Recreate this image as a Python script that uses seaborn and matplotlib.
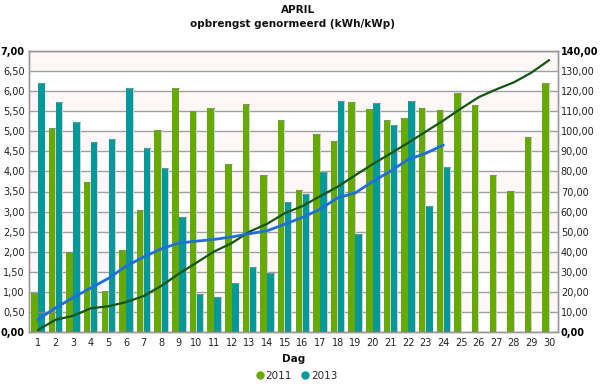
import matplotlib
matplotlib.use("Agg")
import matplotlib.pyplot as plt
import seaborn as sns
import numpy as np
import pandas as pd
from matplotlib.lines import Line2D
from matplotlib.ticker import FuncFormatter, MultipleLocator

days = list(range(1, 31))
y2011 = [0.98, 5.08, 2.00, 3.73, 1.03, 2.05, 3.05, 5.03, 6.08, 5.51,
         5.57, 4.18, 5.69, 3.90, 5.28, 3.53, 4.92, 4.76, 5.72, 5.55,
         5.28, 5.33, 5.58, 5.54, 5.96, 5.65, 3.90, 3.51, 4.87, 6.21]
y2013 = [6.20, 5.74, 5.23, 4.73, 4.80, 6.07, 4.58, 4.08, 2.87, 0.95,
         0.88, 1.21, 1.61, 1.47, 3.23, 3.45, 3.99, 5.75, 2.44, 5.71,
         5.16, 5.75, 3.13, 4.11]
cum2011 = [0.98, 6.06, 8.06, 11.79, 12.82, 14.87, 17.92, 22.95, 29.03, 34.54,
           40.11, 44.29, 49.98, 53.88, 59.16, 62.69, 67.61, 72.37, 78.09, 83.64,
           88.92, 94.25, 99.83, 105.37, 111.33, 116.98, 120.88, 124.39, 129.26, 135.47]
cum2013 = [6.20, 11.94, 17.17, 21.90, 26.70, 32.77, 37.35, 41.43, 44.30, 45.25,
           46.13, 47.34, 48.95, 50.42, 53.65, 57.10, 61.09, 66.84, 69.28, 74.99,
           80.15, 85.90, 89.03, 93.14]
years = ["2011", "2013"]

GREEN = "#66AA00"
TEAL = "#009999"
DKGREEN = "#115511"
BLUE = "#1E6FDD"

vals2013 = y2013 + [np.nan] * (len(days) - len(y2013))
df = pd.DataFrame({
    "Dag": [str(d) for d in days] * 2,
    "val": y2011 + vals2013,
    "jaar": [years[0]] * len(days) + [years[1]] * len(days),
})

sns.set_theme(style="white")
plt.rcParams["font.family"] = ["DejaVu Sans"]

fig = plt.figure(figsize=(6, 3.84), dpi=100)
ax = fig.add_axes([29 / 600, 52 / 384, (558 - 29) / 600, (332 - 51) / 384])

for lo in np.arange(0.5, 7, 1.0):
    ax.axhspan(lo, lo + 0.5, color="#FFF6F8", zorder=0, lw=0)

sns.barplot(data=df, x="Dag", y="val", hue="jaar", palette=[GREEN, TEAL],
            width=0.8, gap=0.08, ax=ax, legend=False, zorder=3,
            edgecolor="none", linewidth=0, saturation=1)

# subtle shadow to the right of each bar
for p in list(ax.patches):
    h = p.get_height()
    if h is None or np.isnan(h) or h <= 0:
        continue
    ax.bar(p.get_x() + p.get_width() + 0.025, h, width=0.05, bottom=0,
           align="center", color="#CFCFCF", zorder=2.9, lw=0)
    ax.plot([p.get_x(), p.get_x() + p.get_width()], [h, h], color="#888888",
            lw=0.8, zorder=3.1, solid_capstyle="butt")

ax.set_ylim(0, 7)
ax.set_xlim(-0.5, len(days) - 0.5)
ax.yaxis.set_major_locator(MultipleLocator(0.5))
ax.yaxis.set_major_formatter(FuncFormatter(lambda v, p: f"{v:.2f}".replace(".", ",")))
ax.grid(axis="y", color="#A0A0A0", lw=1, zorder=1)
ax.grid(axis="x", visible=False)
ax.set_axisbelow(True)
ax.tick_params(axis="both", length=0, labelsize=7, colors="#222222")
ax.tick_params(axis="y", pad=3)
ax.tick_params(axis="x", pad=4)
ax.set_ylabel("")
ax.set_xlabel("Dag", fontsize=7.5, fontweight="bold", labelpad=5, color="#111111")
for s in ax.spines.values():
    s.set_color("#999999")
    s.set_linewidth(1)

ax2 = ax.twinx()
x_idx = np.arange(len(days))
sns.lineplot(x=x_idx, y=cum2011, color=DKGREEN, lw=1.6, ax=ax2)
sns.lineplot(x=x_idx[:len(cum2013)], y=cum2013, color=BLUE, lw=2.0, ax=ax2)
ax2.set_ylim(0, 140)
ax2.yaxis.set_major_locator(MultipleLocator(10))
ax2.yaxis.set_major_formatter(FuncFormatter(lambda v, p: f"{v:.2f}".replace(".", ",")))
ax2.tick_params(axis="y", length=0, labelsize=7, pad=2, colors="#222222")
ax2.grid(False)
ax2.set_ylabel("")
for s in ax2.spines.values():
    s.set_color("#999999")
    s.set_linewidth(1)

fig.canvas.draw()
for axis in (ax, ax2):
    for lab in axis.get_yticklabels():
        if lab.get_text() in ("0,00", "7,00", "140,00"):
            lab.set_fontweight("bold")
            lab.set_color("#000000")

fig.text(0.497, 1 - 10 / 384, "APRIL", ha="center", va="center",
         fontsize=7.5, fontweight="bold", color="#111111")
fig.text(0.487, 1 - 24 / 384, "opbrengst genormeerd (kWh/kWp)", ha="center",
         va="center", fontsize=7.5, fontweight="bold", color="#111111")

handles = [Line2D([], [], marker="o", ls="none", color=c, markersize=5)
           for c in (GREEN, TEAL)]
fig.legend(handles, years, loc="center", bbox_to_anchor=(0.493, 1 - 376 / 384),
           ncol=2, frameon=False, fontsize=7.5, handletextpad=0.05,
           columnspacing=0.8, handlelength=1.0, borderpad=0)

fig.savefig("out.png", dpi=100)
